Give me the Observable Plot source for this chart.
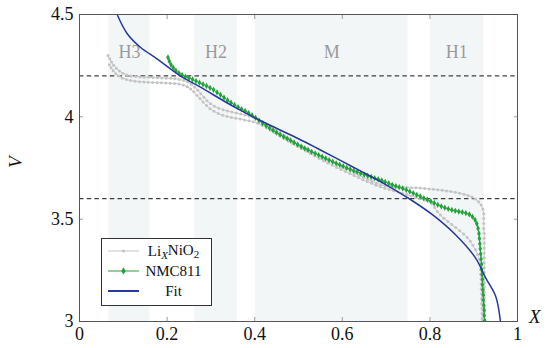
<!DOCTYPE html>
<html>
<head>
<meta charset="utf-8">
<script src="https://cdn.jsdelivr.net/npm/d3@7"></script>
<script src="https://cdn.jsdelivr.net/npm/@observablehq/plot@0.6"></script>
<style>
  html, body { margin: 0; padding: 0; background: #fff; }
  #chart { width: 550px; height: 348px; }
  #chart svg, #chart svg text, #chart svg tspan { font-family: "Liberation Serif", serif !important; }
</style>
</head>
<body>
<div id="chart"></div>
<script>
// ---- data ----
const xTicks = [0, 0.2, 0.4, 0.6, 0.8, 1];
const yTicks = [3, 3.5, 4, 4.5];
const refVoltages = [4.2, 3.6];

const regionNames = ["H3", "H2", "M", "H1"];
const regionStart = [0.067, 0.263, 0.402, 0.801];
const regionEnd   = [0.161, 0.360, 0.750, 0.922];

const seriesNames = ["Li", "NMC811", "Fit"];

// LixNiO2, first curve [X, V]
const lixnio2A = [
[0.065,4.300],[0.069,4.284],[0.073,4.268],[0.078,4.252],[0.084,4.237],[0.091,4.224],[0.099,4.213],[0.108,4.205],[0.118,4.200],[0.128,4.197],
[0.138,4.195],[0.148,4.194],[0.158,4.193],[0.168,4.192],[0.178,4.191],[0.188,4.190],[0.198,4.189],[0.208,4.188],[0.218,4.186],[0.228,4.183],
[0.238,4.178],[0.247,4.170],[0.255,4.159],[0.263,4.145],[0.270,4.130],[0.277,4.113],[0.284,4.096],[0.291,4.079],[0.299,4.064],[0.308,4.052],
[0.318,4.042],[0.328,4.035],[0.338,4.029],[0.348,4.024],[0.358,4.019],[0.368,4.014],[0.378,4.009],[0.388,4.003],[0.398,3.996],[0.408,3.987],
[0.418,3.976],[0.428,3.964],[0.438,3.950],[0.448,3.936],[0.458,3.922],[0.468,3.908],[0.478,3.895],[0.488,3.882],[0.498,3.869],[0.508,3.857],
[0.518,3.845],[0.528,3.833],[0.538,3.821],[0.548,3.810],[0.558,3.799],[0.568,3.788],[0.578,3.777],[0.588,3.766],[0.598,3.755],[0.608,3.745],
[0.618,3.735],[0.628,3.725],[0.638,3.715],[0.648,3.705],[0.658,3.695],[0.668,3.685],[0.678,3.676],[0.688,3.668],[0.698,3.662],[0.708,3.659],
[0.718,3.657],[0.728,3.656],[0.738,3.656],[0.748,3.655],[0.758,3.654],[0.768,3.653],[0.778,3.652],[0.788,3.650],[0.798,3.648],[0.808,3.646],
[0.818,3.644],[0.828,3.641],[0.838,3.638],[0.848,3.635],[0.858,3.631],[0.868,3.627],[0.878,3.622],[0.887,3.616],[0.896,3.608],[0.904,3.598],
[0.911,3.585],[0.917,3.569],[0.921,3.550],[0.923,3.527],[0.923,3.503],[0.923,3.479],[0.923,3.455],[0.924,3.431],[0.924,3.407],[0.924,3.383],
[0.924,3.359],[0.924,3.335],[0.924,3.311],[0.924,3.287],[0.924,3.263],[0.924,3.239],[0.924,3.215],[0.924,3.191],[0.924,3.167],[0.924,3.143],
[0.924,3.119],[0.924,3.095],[0.924,3.071],[0.924,3.047],[0.924,3.023],[0.924,3.000]
];

// LixNiO2, second curve [X, V]
const lixnio2B = [
[0.068,4.255],[0.072,4.240],[0.077,4.225],[0.083,4.211],[0.090,4.199],[0.098,4.189],[0.107,4.182],[0.117,4.177],[0.127,4.174],[0.137,4.172],
[0.147,4.170],[0.157,4.169],[0.167,4.168],[0.177,4.167],[0.187,4.166],[0.197,4.165],[0.207,4.164],[0.217,4.163],[0.227,4.160],[0.237,4.155],
[0.246,4.147],[0.254,4.136],[0.261,4.122],[0.268,4.106],[0.275,4.089],[0.282,4.072],[0.290,4.055],[0.298,4.040],[0.307,4.027],[0.317,4.016],
[0.327,4.008],[0.337,4.002],[0.347,3.997],[0.357,3.993],[0.367,3.989],[0.377,3.985],[0.387,3.981],[0.397,3.976],[0.407,3.969],[0.417,3.959],
[0.427,3.947],[0.437,3.934],[0.447,3.921],[0.457,3.908],[0.467,3.895],[0.477,3.882],[0.487,3.869],[0.497,3.857],[0.507,3.845],[0.517,3.833],
[0.527,3.821],[0.537,3.809],[0.547,3.797],[0.557,3.786],[0.567,3.775],[0.577,3.764],[0.587,3.753],[0.597,3.743],[0.607,3.733],[0.617,3.723],
[0.627,3.713],[0.637,3.703],[0.647,3.693],[0.657,3.684],[0.667,3.675],[0.677,3.666],[0.687,3.658],[0.697,3.651],[0.707,3.645],[0.717,3.639],
[0.727,3.633],[0.737,3.627],[0.747,3.620],[0.757,3.613],[0.767,3.606],[0.777,3.600],[0.787,3.594],[0.797,3.587],[0.805,3.575],[0.811,3.557],
[0.817,3.538],[0.824,3.520],[0.832,3.504],[0.841,3.489],[0.850,3.474],[0.859,3.459],[0.868,3.444],[0.877,3.428],[0.885,3.411],[0.892,3.392],
[0.898,3.372],[0.904,3.350],[0.909,3.327],[0.913,3.303],[0.915,3.279],[0.916,3.255],[0.916,3.231],[0.917,3.207],[0.917,3.183],[0.917,3.159],
[0.918,3.135],[0.918,3.111],[0.918,3.087],[0.919,3.063],[0.919,3.039],[0.919,3.015],[0.920,3.000]
];

// NMC811 [X, V]
const nmc811 = [
[0.202,4.290],[0.205,4.272],[0.209,4.254],[0.214,4.240],[0.220,4.226],[0.227,4.214],[0.234,4.205],[0.242,4.197],[0.250,4.190],[0.258,4.183],
[0.266,4.175],[0.274,4.167],[0.282,4.159],[0.290,4.151],[0.298,4.142],[0.306,4.132],[0.314,4.120],[0.322,4.107],[0.330,4.094],[0.338,4.081],
[0.346,4.069],[0.354,4.058],[0.362,4.048],[0.370,4.038],[0.378,4.029],[0.386,4.019],[0.394,4.008],[0.402,3.995],[0.410,3.982],[0.418,3.969],
[0.426,3.957],[0.434,3.945],[0.442,3.934],[0.450,3.923],[0.458,3.913],[0.466,3.903],[0.474,3.894],[0.482,3.884],[0.490,3.874],[0.498,3.864],
[0.506,3.855],[0.514,3.846],[0.522,3.838],[0.530,3.829],[0.538,3.821],[0.546,3.813],[0.554,3.805],[0.562,3.797],[0.570,3.789],[0.578,3.781],
[0.586,3.773],[0.594,3.766],[0.602,3.759],[0.610,3.751],[0.618,3.744],[0.626,3.737],[0.634,3.731],[0.642,3.724],[0.650,3.718],[0.658,3.712],
[0.666,3.706],[0.674,3.700],[0.682,3.695],[0.690,3.689],[0.698,3.682],[0.706,3.675],[0.714,3.668],[0.722,3.662],[0.730,3.656],[0.738,3.650],
[0.746,3.643],[0.754,3.635],[0.762,3.627],[0.770,3.619],[0.778,3.611],[0.786,3.603],[0.794,3.596],[0.802,3.588],[0.810,3.579],[0.818,3.570],
[0.826,3.563],[0.834,3.556],[0.842,3.550],[0.850,3.545],[0.858,3.541],[0.866,3.537],[0.874,3.534],[0.882,3.530],[0.890,3.523],[0.897,3.512],
[0.903,3.497],[0.907,3.478],[0.910,3.455],[0.912,3.430],[0.913,3.405],[0.914,3.380],[0.915,3.355],[0.916,3.330],[0.917,3.305],[0.918,3.280],
[0.918,3.255],[0.919,3.230],[0.920,3.205],[0.920,3.180],[0.921,3.155],[0.922,3.130],[0.922,3.105],[0.923,3.080],[0.924,3.055],[0.924,3.030],
[0.925,3.005]
];

// Fit [X, V]
const fit = [
[0.086,4.500],[0.109,4.406],[0.139,4.340],[0.177,4.283],[0.230,4.200],[0.276,4.145],[0.352,4.050],[0.428,3.966],[0.500,3.893],[0.550,3.838],
[0.600,3.782],[0.650,3.726],[0.700,3.668],[0.752,3.601],[0.805,3.523],[0.858,3.425],[0.904,3.311],[0.927,3.214],[0.950,3.125],[0.961,3.000]
];

// ---- styles ----
const cGray = "#c4c4c4";
const cGreen = "#23a23a";
const cBlue = "#24399a";
const cShade = "#f3f6f6";
const serif = "Liberation Serif";

const regions = regionNames.map((n, i) => ({name: n, x1: regionStart[i], x2: regionEnd[i], xm: (regionStart[i] + regionEnd[i]) / 2}));
const X = d => d[0], Y = d => d[1];

const svg = Plot.plot({
  width: 550,
  height: 348,
  marginLeft: 79,
  marginRight: 33,
  marginTop: 14,
  marginBottom: 27,
  style: {fontFamily: serif, fontSize: "18px", background: "white", color: "#111"},
  x: {domain: [0, 1]},
  y: {domain: [3, 4.5]},
  marks: [
    Plot.rect(regions, {x1: "x1", x2: "x2", fill: cShade}),
    Plot.text(regions, {x: "xm", text: "name", frameAnchor: "top", dy: 31, fill: "#9a9a9a", fontSize: 18}),
    Plot.ruleY(refVoltages, {stroke: "#111", strokeWidth: 1, strokeDasharray: "4.5,3.2"}),
    Plot.line(lixnio2A, {x: X, y: Y, stroke: cGray, strokeWidth: 0.9, clip: true}),
    Plot.dot(lixnio2A, {x: X, y: Y, r: 1.5, fill: cGray, clip: true}),
    Plot.line(lixnio2B, {x: X, y: Y, stroke: cGray, strokeWidth: 0.9, clip: true}),
    Plot.dot(lixnio2B, {x: X, y: Y, r: 1.5, fill: cGray, clip: true}),
    Plot.line(nmc811, {x: X, y: Y, stroke: cGreen, strokeWidth: 1, clip: true}),
    Plot.dot(nmc811, {x: X, y: Y, symbol: "diamond", r: 1.9, fill: cGreen, clip: true}),
    Plot.line(fit, {x: X, y: Y, stroke: cBlue, strokeWidth: 1.5, curve: "catmull-rom", clip: true}),
    // inward ticks on all four sides
    Plot.axisX(xTicks, {anchor: "bottom", tickSize: -4, stroke: "#9a9a9a", fill: "none", label: null}),
    Plot.axisX(xTicks, {anchor: "top", tickSize: -4, stroke: "#9a9a9a", fill: "none", label: null}),
    Plot.axisY(yTicks, {anchor: "left", tickSize: -4, stroke: "#9a9a9a", fill: "none", label: null}),
    Plot.axisY(yTicks, {anchor: "right", tickSize: -4, stroke: "#9a9a9a", fill: "none", label: null}),
    // tick labels
    Plot.axisX(xTicks, {anchor: "bottom", tickSize: 0, tickPadding: 6, tickFormat: d => String(d), label: null, fill: "#111"}),
    Plot.axisY(yTicks, {anchor: "left", tickSize: 0, tickPadding: 6, tickFormat: d => String(d), label: null, fill: "#111"}),
    Plot.frame({stroke: "#555", strokeWidth: 1}),
    Plot.text(["V"], {frameAnchor: "left", dx: -64, rotate: -90, fontStyle: "italic", fontSize: 19, fill: "#111"}),
    Plot.text(["X"], {frameAnchor: "bottom-right", dx: 23, dy: 1, fontStyle: "italic", fontSize: 19, fill: "#111"})
  ]
});

// legend (drawn into the plot's svg)
const lg = d3.select(svg).append("g").attr("font-family", serif).attr("font-size", 15).attr("fill", "#111");
lg.append("rect").attr("x", 101.5).attr("y", 238.5).attr("width", 110).attr("height", 67)
  .attr("fill", "white").attr("stroke", "#333").attr("stroke-width", 1);
const rowsY = [251, 271, 291];
const lineX1 = 108, lineX2 = 139, textX = 173.5;
// row 1: LixNiO2
lg.append("line").attr("x1", lineX1).attr("x2", lineX2).attr("y1", rowsY[0]).attr("y2", rowsY[0]).attr("stroke", cGray).attr("stroke-width", 1);
lg.append("circle").attr("cx", (lineX1 + lineX2) / 2).attr("cy", rowsY[0]).attr("r", 1.5).attr("fill", cGray);
const t1 = lg.append("text").attr("x", textX).attr("y", rowsY[0]).attr("dy", "0.35em").attr("text-anchor", "middle");
t1.append("tspan").text(seriesNames[0]);
t1.append("tspan").attr("font-style", "italic").attr("font-size", 11).attr("dy", "0.25em").text("X");
t1.append("tspan").attr("dy", "-0.25em").text("NiO");
t1.append("tspan").attr("font-size", 11).attr("dy", "0.25em").text("2");
// row 2: NMC811
lg.append("line").attr("x1", lineX1).attr("x2", lineX2).attr("y1", rowsY[1]).attr("y2", rowsY[1]).attr("stroke", cGreen).attr("stroke-width", 1);
lg.append("path").attr("d", d3.symbol(d3.symbolDiamond, 16)()).attr("transform", `translate(${(lineX1 + lineX2) / 2},${rowsY[1]})`).attr("fill", cGreen);
lg.append("text").attr("x", textX).attr("y", rowsY[1]).attr("dy", "0.35em").attr("text-anchor", "middle").text(seriesNames[1]);
// row 3: Fit
lg.append("line").attr("x1", lineX1).attr("x2", lineX2).attr("y1", rowsY[2]).attr("y2", rowsY[2]).attr("stroke", cBlue).attr("stroke-width", 2);
lg.append("text").attr("x", textX).attr("y", rowsY[2]).attr("dy", "0.35em").attr("text-anchor", "middle").text(seriesNames[2]);

document.getElementById("chart").appendChild(svg);
</script>
</body>
</html>
